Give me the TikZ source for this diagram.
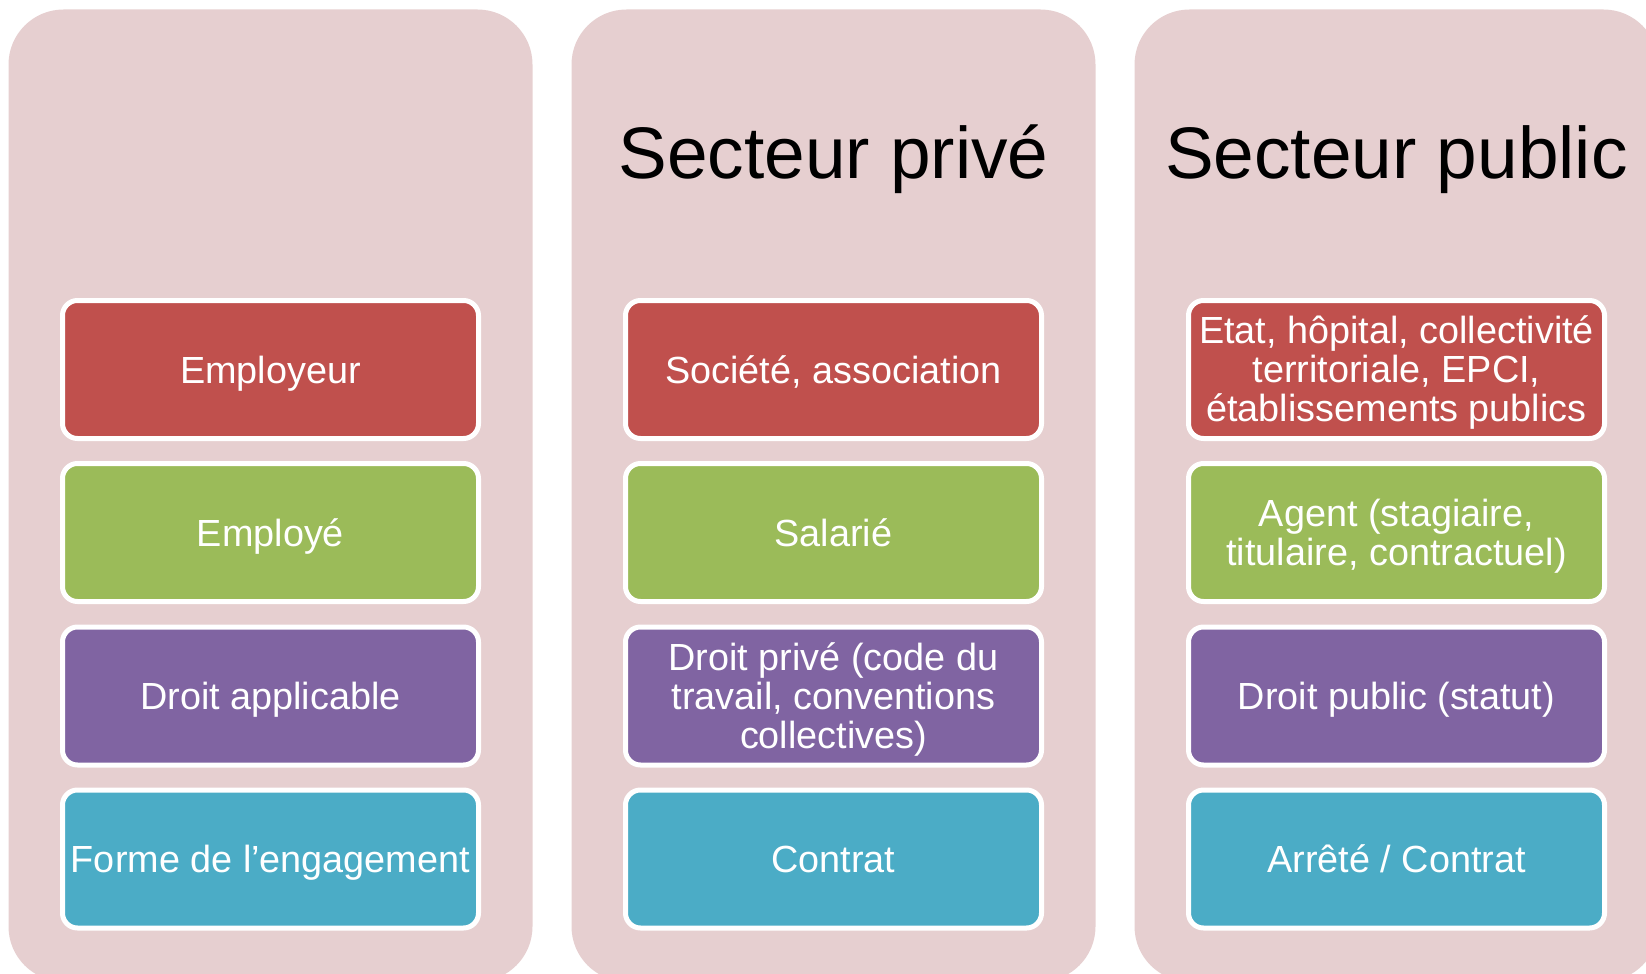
\documentclass[tikz,border=0pt]{standalone}
\usepackage{fontspec}
\setmainfont{Liberation Sans}
\definecolor{colbg}{RGB}{230,207,208}
\definecolor{cred}{RGB}{192,80,77}
\definecolor{cgreen}{RGB}{155,187,89}
\definecolor{cpurple}{RGB}{128,100,162}
\definecolor{cblue}{RGB}{75,172,198}
\newcommand{\firststrut}{\rule{0pt}{0.92em}}
\begin{document}
\begin{tikzpicture}[x=1pt,y=-1pt,
  column/.style={fill=colbg, draw=none, rounded corners=55pt, minimum width=524pt, minimum height=972pt, inner sep=0pt},
  item/.style={draw=white, line width=5pt, rounded corners=15pt, minimum width=416pt, minimum height=138pt, text=white, align=center, inner sep=0pt, font=\fontsize{37.8}{39}\selectfont},
  oneline/.style={text height=28pt, text depth=1pt},
  coltitle/.style={anchor=base, inner sep=0pt, font=\fontsize{73}{80}\selectfont}]
\useasboundingbox (0,0) rectangle (1646,974);
\node[column] (c1) at (270.5,495.5) {};
\node[column] (c2) at (833.5,495.5) {};
\node[column] (c3) at (1396.5,495.5) {};
\node[coltitle] (t2) at (833.5,178) {Secteur privé};
\node[coltitle] (t3) at (1396.5,178) {Secteur public};
% column 1
\node[item, oneline, fill=cred] (a1) at (270.5,369.5) {Employeur};
\node[item, oneline, fill=cgreen] (a2) at (270.5,532.5) {Employé};
\node[item, oneline, fill=cpurple] (a3) at (270.5,696) {Droit applicable};
\node[item, oneline, fill=cblue] (a4) at (270.5,859) {Forme de l’engagement};
% column 2
\node[item, oneline, fill=cred] (b1) at (833.5,369.5) {Société, association};
\node[item, oneline, fill=cgreen] (b2) at (833.5,532.5) {Salarié};
\node[item, fill=cpurple] (b3) at (833.5,696) {\firststrut Droit privé (code du\\travail, conventions\\collectives)};
\node[item, oneline, fill=cblue] (b4) at (833.5,859) {Contrat};
% column 3
\node[item, fill=cred] (d1) at (1396.5,369.5) {\firststrut Etat, hôpital, collectivité\\territoriale, EPCI,\\établissements publics};
\node[item, fill=cgreen] (d2) at (1396.5,532.5) {\firststrut Agent (stagiaire,\\titulaire, contractuel)};
\node[item, oneline, fill=cpurple] (d3) at (1396.5,696) {Droit public (statut)};
\node[item, oneline, fill=cblue] (d4) at (1396.5,859) {Arrêté / Contrat};
\end{tikzpicture}
\end{document}
